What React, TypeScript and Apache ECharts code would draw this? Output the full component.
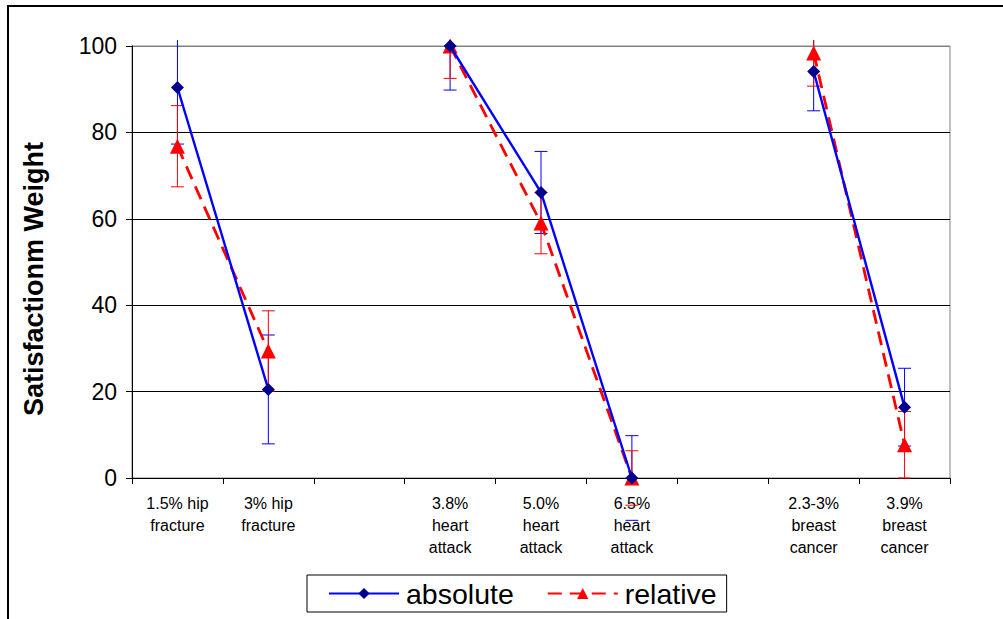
import React, { useEffect, useRef } from "react";
import * as echarts from "echarts";

const categories = [
  "1.5% hip\nfracture",
  "3% hip\nfracture",
  "",
  "3.8%\nheart\nattack",
  "5.0%\nheart\nattack",
  "6.5%\nheart\nattack",
  "",
  "2.3-3%\nbreast\ncancer",
  "3.9%\nbreast\ncancer",
];
const absoluteValues: (number | null)[] = [90.4, 20.5, null, 100, 66.1, 0, null, 94.1, 16.4];
const absoluteErrors: (number | null)[] = [13.1, 12.6, null, 10.2, 9.5, 9.8, null, 9.1, 9.0];
const relativeValues: (number | null)[] = [76.8, 29.4, null, 100, 59.0, 0, null, 98.4, 7.7];
const relativeErrors: (number | null)[] = [9.4, 9.3, null, 7.5, 7.1, 6.3, null, 7.7, 7.7];
const yTicks = [0, 20, 40, 60, 80, 100];
const yTitle = "Satisfactionm Weight";

const FONT = "'Liberation Sans', Arial, sans-serif";

function errData(vals: (number | null)[], errs: (number | null)[]) {
  const out: number[][] = [];
  vals.forEach((v, i) => {
    if (v != null && errs[i] != null) out.push([i, v - (errs[i] as number), v + (errs[i] as number)]);
  });
  return out;
}

function makeErrSeries(name: string, color: string, data: number[][]) {
  return {
    type: "custom",
    name,
    z: 1,
    clip: false,
    silent: true,
    encode: { x: 0, y: [1, 2] },
    data,
    renderItem: (params: any, api: any) => {
      const i = api.value(0);
      const lo = api.value(1);
      const hi = api.value(2);
      const x = api.coord([i, lo])[0];
      const yLo = api.coord([i, lo])[1];
      const yHi = api.coord([i, hi])[1];
      const top = api.coord([i, yTicks[yTicks.length - 1]])[1] - 6;
      const bottom = api.coord([i, yTicks[0]])[1];
      const half = 6.5;
      const style = { stroke: color, lineWidth: 1 };
      const children: any[] = [];
      const a = Math.max(yHi, top);
      const b = Math.min(yLo, bottom);
      if (b > a) children.push({ type: "line", shape: { x1: x, y1: a, x2: x, y2: b }, style });
      if (yHi >= top) children.push({ type: "line", shape: { x1: x - half, y1: yHi, x2: x + half, y2: yHi }, style });
      if (yLo >= top) children.push({ type: "line", shape: { x1: x - half, y1: yLo, x2: x + half, y2: yLo }, style });
      return { type: "group", children };
    },
  };
}

export default function App() {
  const ref = useRef<HTMLDivElement>(null);
  useEffect(() => {
    if (!ref.current) return;
    const chart = echarts.init(ref.current, null, { renderer: "svg" });
    chart.setOption({
      animation: false,
      backgroundColor: "#fff",
      textStyle: { fontFamily: FONT },
      grid: {
        left: 132,
        top: 46,
        right: 53,
        bottom: 141,
        show: true,
        borderColor: "#808080",
        borderWidth: 1,
        containLabel: false,
      },
      legend: {
        data: ["absolute", "relative"],
        left: 307,
        top: 575,
        orient: "horizontal",
        borderColor: "#000",
        borderWidth: 1,
        padding: [4, 10, 4, 21],
        itemGap: 33,
        itemWidth: 70,
        itemHeight: 14,
        textStyle: { fontSize: 28.5, color: "#000", fontFamily: FONT, padding: [0, 0, 0, 2] },
      },
      xAxis: {
        type: "category",
        data: categories,
        boundaryGap: true,
        axisLine: { lineStyle: { color: "#000", width: 1 } },
        axisTick: { show: true, length: 6, alignWithLabel: false, interval: 0, lineStyle: { color: "#000" } },
        axisLabel: {
          interval: 0,
          margin: 14,
          fontSize: 16,
          lineHeight: 22,
          color: "#000",
          fontFamily: FONT,
          align: "center",
        },
        splitLine: { show: false },
      },
      yAxis: {
        type: "value",
        min: 0,
        max: 100,
        interval: 20,
        axisLine: { show: true, lineStyle: { color: "#000", width: 1 } },
        axisTick: { show: true, length: 6, lineStyle: { color: "#000" } },
        axisLabel: { fontSize: 23, color: "#000", margin: 15, fontFamily: FONT },
        splitLine: {
          show: true,
          lineStyle: { color: ["#000", "#000", "#000", "#000", "#000", "#808080"], width: 1 },
        },
      },
      graphic: [
        {
          type: "rect",
          shape: { x: 8, y: 6, width: 1100, height: 700 },
          style: { fill: "none", stroke: "#000", lineWidth: 2 },
          silent: true,
          z: 0,
        },
        {
          type: "text",
          x: 34,
          y: 279,
          rotation: Math.PI / 2,
          style: {
            text: yTitle,
            font: `bold 27px ${FONT}`,
            fill: "#000",
            textAlign: "center",
            textVerticalAlign: "middle",
          },
        },
      ],
      series: [
        makeErrSeries("absolute-err", "#0000FF", errData(absoluteValues, absoluteErrors)),
        makeErrSeries("relative-err", "#FF0000", errData(relativeValues, relativeErrors)),
        {
          type: "line",
          name: "absolute",
          data: absoluteValues,
          connectNulls: false,
          clip: false,
          z: 3,
          symbol: "diamond",
          symbolSize: 13,
          itemStyle: { color: "#00008B" },
          lineStyle: { color: "#0000FF", width: 2.4, type: "solid" },
        },
        {
          type: "line",
          name: "relative",
          data: relativeValues,
          connectNulls: false,
          clip: false,
          z: 2,
          symbol: "triangle",
          symbolSize: 15,
          itemStyle: { color: "#FF0000" },
          lineStyle: { color: "#FF0000", width: 2.8, type: [14, 8] },
        },
      ],
    });
    return () => chart.dispose();
  }, []);
  return <div ref={ref} style={{ position: "fixed", left: 0, top: 0, width: 1003, height: 619 }} />;
}
